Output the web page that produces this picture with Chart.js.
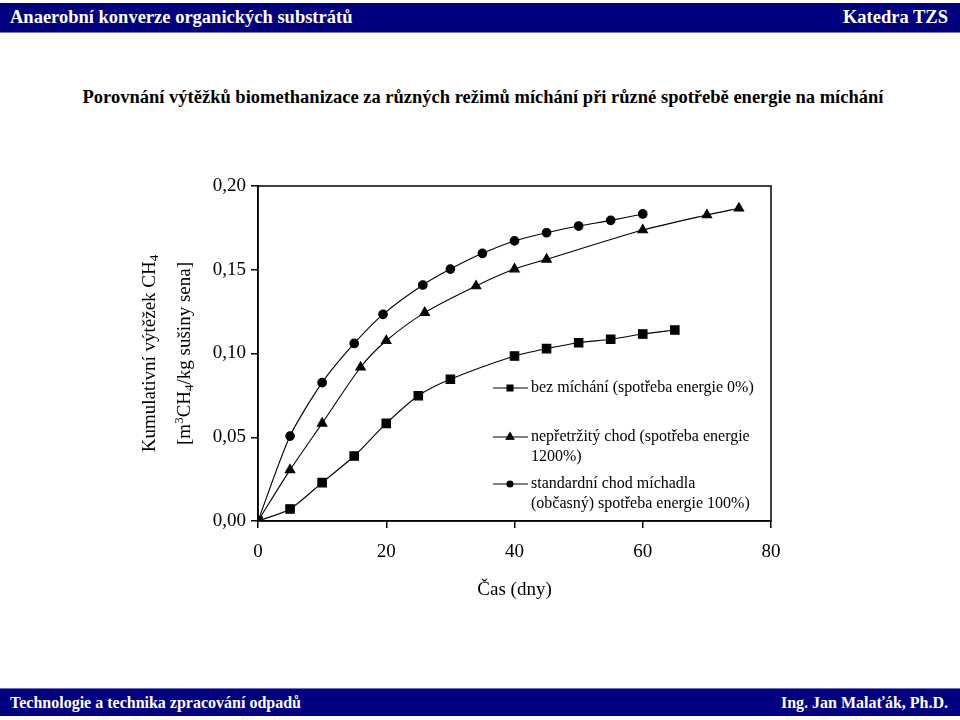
<!DOCTYPE html>
<html lang="cs">
<head>
<meta charset="UTF-8">
<script src="https://cdn.jsdelivr.net/npm/chart.js"></script>
<title>Porovnání výtěžků biomethanizace</title>
<style>
  body { margin: 0; width: 960px; height: 720px; background: #fff; position: relative; overflow: hidden; font-family: "Liberation Serif", serif; }
  .bar { position: absolute; left: 0; width: 960px; background: #000080; color: #fff; font-weight: bold; box-sizing: border-box; padding: 0 12px 0 10px; display: flex; justify-content: space-between; align-items: center; }
  #head { top: 3px; height: 30px; font-size: 18.5px; border-bottom: 1px solid #7070c0; }
  #foot { top: 688px; height: 28px; font-size: 16px; border-top: 1px solid #7070c0; }
  #title { position: absolute; top: 87px; left: 0; width: 966px; text-align: center; font-weight: bold; font-size: 18.5px; }
  #wrap { position: absolute; left: 0; top: 0; }
</style>
</head>
<body>
<div id="head" class="bar"><span>Anaerobní konverze organických substrátů</span><span>Katedra TZS</span></div>
<div id="title">Porovnání výtěžků biomethanizace za různých režimů míchání při různé spotřebě energie na míchání</div>
<div id="wrap"><canvas id="graf" width="960" height="720"></canvas></div>
<div id="foot" class="bar"><span>Technologie a technika zpracování odpadů</span><span>Ing. Jan Malaťák, Ph.D.</span></div>
<script>
// bez míchání
const dnyBez = [0, 5, 10, 15, 20, 25, 30, 40, 45, 50, 55, 60, 65];
const vytezekBez = [0, 0.0072, 0.0229, 0.0388, 0.0583, 0.0748, 0.0846, 0.0985, 0.1029, 0.1064, 0.1085, 0.1116, 0.114];
// nepřetržitý chod
const dnyNep = [0, 5, 10, 16, 20, 26, 34, 40, 45, 60, 70, 75];
const vytezekNep = [0, 0.0305, 0.0583, 0.0918, 0.1076, 0.1244, 0.1403, 0.1504, 0.1562, 0.1737, 0.1827, 0.1867];
// standardní chod
const dnyStd = [0, 5, 10, 15, 19.5, 25.7, 30, 35, 40, 45, 50, 55, 60];
const vytezekStd = [0, 0.0507, 0.0826, 0.106, 0.1234, 0.1409, 0.1504, 0.1598, 0.1672, 0.1721, 0.1761, 0.1795, 0.1833];

const legendaTexty = [
  ["bez míchání (spotřeba energie 0%)"],
  ["nepřetržitý chod (spotřeba energie", "1200%)"],
  ["standardní chod míchadla", "(občasný) spotřeba energie 100%)"]
];
const xTicks = [0, 20, 40, 60, 80];
const yTicks = [0, 0.05, 0.10, 0.15, 0.20];

const body = (xs, ys) => xs.map((x, i) => ({ x: x, y: ys[i] }));

const serie = (label, data, styl, r) => ({
  label: label,
  data: data,
  borderColor: '#000',
  backgroundColor: '#000',
  borderWidth: 1.1,
  pointStyle: styl,
  pointRadius: r,
  pointHoverRadius: r,
  tension: 0.25
});

const ramecek = {
  id: 'ramecek',
  afterDraw(chart) {
    const c = chart.ctx;
    const a = chart.chartArea;
    c.save();
    c.strokeStyle = '#000';
    c.lineWidth = 1.5;
    c.strokeRect(a.left, a.top, a.right - a.left, a.bottom - a.top);

    // legenda
    const ly = [388, 437, 484];
    const ms = ['rect', 'triangle', 'circle'];
    const mr = [4.2, 4.5, 3];
    c.font = '16px "Liberation Serif"';
    c.textBaseline = 'middle';
    c.textAlign = 'left';
    c.fillStyle = '#000';
    for (let i = 0; i < 3; i++) {
      c.lineWidth = 1.1;
      c.beginPath();
      c.moveTo(493, ly[i]);
      c.lineTo(528, ly[i]);
      c.stroke();
      Chart.helpers.drawPoint(c, { pointStyle: ms[i], radius: mr[i], borderWidth: 1 }, 510, ly[i]);
      c.fill();
      legendaTexty[i].forEach((t, k) => c.fillText(t, 531, ly[i] + k * 20));
    }

    // popis osy y
    const radky = [
      { x: 150, parts: [['Kumulativní výtěžek CH', 0], ['4', 1]] },
      { x: 185, parts: [['[m', 0], ['3', -1], ['CH', 0], ['4', 1], ['/kg sušiny sena]', 0]] }
    ];
    const cy = (a.top + a.bottom) / 2;
    radky.forEach(r => {
      let w = 0;
      r.parts.forEach(p => {
        c.font = (p[1] ? '13px' : '19px') + ' "Liberation Serif"';
        w += c.measureText(p[0]).width;
      });
      c.save();
      c.translate(r.x, cy);
      c.rotate(-Math.PI / 2);
      let x = -w / 2;
      r.parts.forEach(p => {
        c.font = (p[1] ? '13px' : '19px') + ' "Liberation Serif"';
        c.fillText(p[0], x, p[1] * 5);
        x += c.measureText(p[0]).width;
      });
      c.restore();
    });
    c.restore();
  }
};

new Chart(document.getElementById('graf'), {
  type: 'line',
  data: {
    datasets: [
      serie(legendaTexty[0].join(' '), body(dnyBez, vytezekBez), 'rect', 6),
      serie(legendaTexty[1].join(' '), body(dnyNep, vytezekNep), 'triangle', 5.5),
      serie(legendaTexty[2].join(' '), body(dnyStd, vytezekStd), 'circle', 4.3)
    ]
  },
  options: {
    responsive: false,
    animation: false,
    events: [],
    layout: { padding: { left: 0, right: 189, top: 186, bottom: 119 } },
    plugins: { legend: { display: false }, tooltip: { enabled: false } },
    scales: {
      x: {
        type: 'linear',
        min: 0,
        max: 80,
        afterFit: s => { s.height = 80; },
        afterBuildTicks: s => { s.ticks = xTicks.map(v => ({ value: v })); },
        border: { display: true, color: '#000', width: 1.5 },
        grid: { display: true, drawOnChartArea: false, drawTicks: true, tickLength: 7, color: '#000', lineWidth: 1.5 },
        ticks: { color: '#000', padding: 13, font: { family: 'Liberation Serif', size: 19 } },
        title: { display: true, text: 'Čas (dny)', color: '#000', padding: { top: 0, bottom: 0 }, font: { family: 'Liberation Serif', size: 19 } }
      },
      y: {
        min: 0,
        max: 0.2,
        afterFit: s => { s.width = 258; },
        afterBuildTicks: s => { s.ticks = yTicks.map(v => ({ value: v })); },
        border: { display: true, color: '#000', width: 1.5 },
        grid: { display: true, drawOnChartArea: false, drawTicks: true, tickLength: 7, color: '#000', lineWidth: 1.5 },
        ticks: { color: '#000', padding: 5, font: { family: 'Liberation Serif', size: 19 }, callback: v => v.toFixed(2).replace('.', ',') }
      }
    }
  },
  plugins: [ramecek]
});
</script>
</body>
</html>
